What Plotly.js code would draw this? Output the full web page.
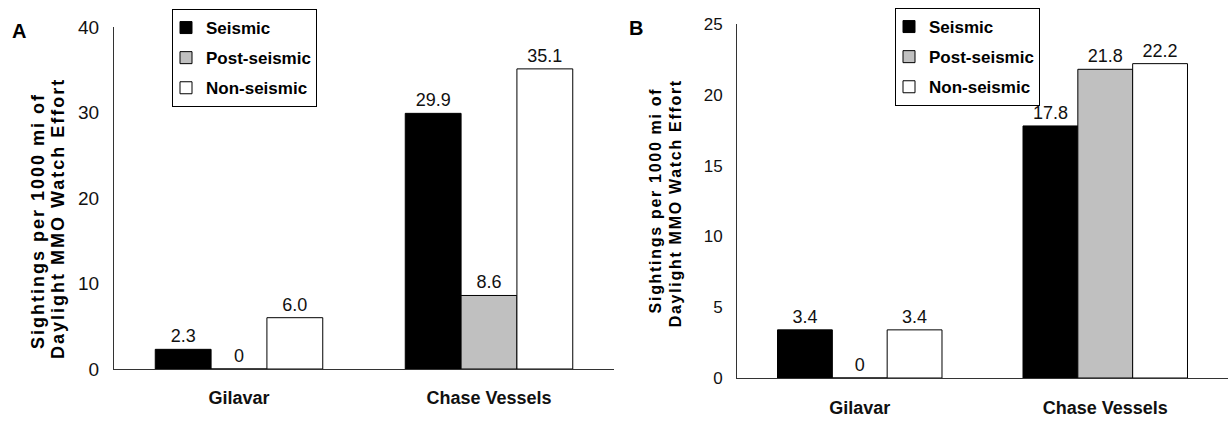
<!DOCTYPE html>
<html>
<head>
<meta charset="utf-8">
<script src="https://cdn.plot.ly/plotly-3.0.1.min.js"></script>
<style>
  html, body { margin: 0; padding: 0; background: #fff; }
  #chart { width: 1228px; height: 421px; }
  .annotation[data-index="0"] .annotation-text, .annotation[data-index="1"] .annotation-text { letter-spacing: 2px !important; }
  .annotation[data-index="2"] .annotation-text, .annotation[data-index="3"] .annotation-text { letter-spacing: 1.7px !important; }
</style>
</head>
<body>
<div id="chart"></div>
<script>
// ---- data ----
const categories = ['Gilavar', 'Chase Vessels'];
const seriesNames = ['Seismic', 'Post-seismic', 'Non-seismic'];
const seriesColors = ['#000000', '#c0c0c0', '#ffffff'];

const panelA_seismic = [2.3, 29.9];
const panelA_postSeismic = [0, 8.6];
const panelA_nonSeismic = [6.0, 35.1];

const panelB_seismic = [3.4, 17.8];
const panelB_postSeismic = [0, 21.8];
const panelB_nonSeismic = [3.4, 22.2];

const yTitleLines = ['Sightings per 1000 mi of', 'Daylight MMO Watch Effort'];
const panelLabels = ['A', 'B'];

// ---- build ----
const W = 1228, H = 421;
const FONT = 'Liberation Sans, Arial, Helvetica, sans-serif';
const fmt = v => (v === 0 ? '0' : v.toFixed(1));

function makeTrace(vals, i, xa, ya, leg) {
  return {
    type: 'bar',
    x: categories,
    y: vals,
    name: seriesNames[i],
    xaxis: xa, yaxis: ya,
    legend: leg,
    legendgroup: leg + '_' + i,
    marker: { color: seriesColors[i], line: { color: '#000', width: 1 } },
    text: vals.map(fmt),
    textposition: 'outside',
    textfont: { family: FONT, size: 18, color: '#111' },
    cliponaxis: false,
    hoverinfo: 'x+y+name'
  };
}

const A = [panelA_seismic, panelA_postSeismic, panelA_nonSeismic];
const B = [panelB_seismic, panelB_postSeismic, panelB_nonSeismic];
const data = [];
A.forEach((v, i) => data.push(makeTrace(v, i, 'x', 'y', 'legend')));
B.forEach((v, i) => data.push(makeTrace(v, i, 'x2', 'y2', 'legend2')));

const px = x => x / W;
const py = y => 1 - y / H;

const baseX = {
  showline: true, linecolor: '#333', linewidth: 1,
  ticks: '', showgrid: false, zeroline: false,
  tickfont: { family: FONT, size: 18, color: '#111', weight: 'bold' },
  fixedrange: true
};
const baseY = {
  showline: true, linecolor: '#333', linewidth: 1,
  ticks: '', showgrid: false, zeroline: false,
  ticklabelstandoff: 10, fixedrange: true
};

const legendBase = {
  bgcolor: '#fff', bordercolor: '#000', borderwidth: 1,
  font: { family: FONT, size: 17, color: '#000', weight: 'bold' },
  xanchor: 'left', yanchor: 'top', tracegroupgap: 5,
  itemwidth: 30, traceorder: 'grouped', indentation: -7
};

function titleAnn(text, x, y, size) {
  return { text: text, xref: 'paper', yref: 'paper', x: px(x), y: py(y),
    xanchor: 'center', yanchor: 'middle', textangle: -90, showarrow: false,
    font: { family: FONT, size: size, color: '#000', weight: 'bold' } };
}

const layout = {
  width: W, height: H,
  margin: { l: 0, r: 0, t: 0, b: 0 },
  paper_bgcolor: '#fff', plot_bgcolor: '#fff',
  font: { family: FONT, color: '#000' },
  barmode: 'group', bargap: 0.33, bargroupgap: 0,
  showlegend: true,
  xaxis: Object.assign({}, baseX, { domain: [px(114), px(614)], anchor: 'y', ticklabelstandoff: 12 }),
  yaxis: Object.assign({}, baseY, { domain: [py(369), py(27)], anchor: 'x', range: [0, 40], dtick: 10,
    tickfont: { family: FONT, size: 19, color: '#111' } }),
  xaxis2: Object.assign({}, baseX, { domain: [px(737), 1], anchor: 'y2', ticklabelstandoff: 13 }),
  yaxis2: Object.assign({}, baseY, { domain: [py(378), py(24)], anchor: 'x2', range: [0, 25], dtick: 5,
    tickfont: { family: FONT, size: 17, color: '#111' } }),
  legend: Object.assign({}, legendBase, { x: px(172), y: py(9) }),
  legend2: Object.assign({}, legendBase, { x: px(895), y: py(8) }),
  annotations: [
    titleAnn(yTitleLines[0], 38, 221, 18),
    titleAnn(yTitleLines[1], 58, 219, 18),
    titleAnn(yTitleLines[0], 655, 200, 16),
    titleAnn(yTitleLines[1], 675, 203, 16),
    { text: panelLabels[0], xref: 'paper', yref: 'paper', x: px(19), y: py(31),
      xanchor: 'center', yanchor: 'middle', showarrow: false,
      font: { family: FONT, size: 20, color: '#000', weight: 'bold' } },
    { text: panelLabels[1], xref: 'paper', yref: 'paper', x: px(636), y: py(28),
      xanchor: 'center', yanchor: 'middle', showarrow: false,
      font: { family: FONT, size: 20, color: '#000', weight: 'bold' } }
  ]
};

Plotly.newPlot('chart', data, layout, { displayModeBar: false, staticPlot: true });
</script>
</body>
</html>
